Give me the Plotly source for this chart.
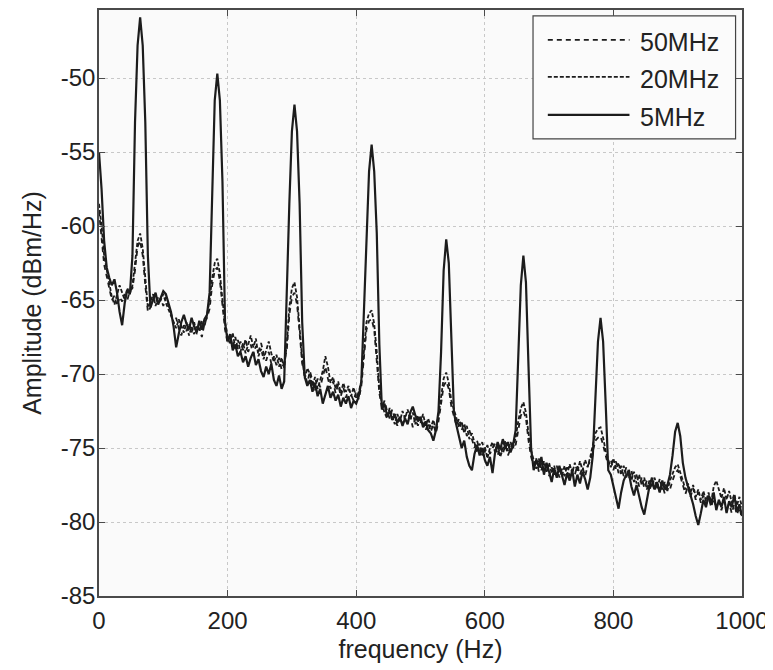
import plotly.graph_objects as go

# Frequency axis (Hz), 4 Hz resolution
freq = list(range(0, 1001, 4))

# 5MHz (solid)
amp_5mhz = [
    -55.0, -57.5, -61.0, -62.8, -63.5, -64.0, -63.6, -64.5, -65.8, -66.7,
    -65.2, -64.3, -64.6, -62.0, -53.0, -47.8, -45.9, -47.8, -53.0, -62.0,
    -65.5, -65.0, -64.5, -65.3, -64.8, -64.4, -64.6, -65.2, -65.8, -66.8,
    -68.2, -67.3, -66.5, -66.0, -66.6, -67.0, -66.2, -66.8, -67.2, -66.4,
    -67.0, -66.3, -66.0, -64.5, -57.0, -51.5, -49.7, -51.5, -57.0, -66.5,
    -67.8, -67.3, -68.4, -68.0, -68.8, -68.5, -69.2, -68.8, -69.5, -68.9,
    -68.5, -69.4, -69.0, -69.8, -70.2, -69.5, -70.0, -69.3, -70.4, -70.8,
    -70.1, -71.0, -70.5, -64.0, -58.5, -53.6, -51.8, -53.6, -58.5, -66.5,
    -70.2, -70.8, -70.4, -71.2, -70.6, -71.5, -71.0, -72.0, -71.3, -70.8,
    -71.6, -71.2, -71.8, -71.4, -72.2, -71.6, -72.0, -71.5, -72.3, -71.8,
    -72.0, -71.5, -70.5, -66.0, -60.5, -56.3, -54.5, -56.3, -60.5, -68.0,
    -72.4, -72.0, -72.8, -72.5, -73.1, -72.7, -73.3, -72.9, -73.5, -73.0,
    -73.4, -72.6, -72.2, -72.8, -73.2, -72.9, -73.6, -73.2, -73.8, -74.0,
    -74.5, -73.8, -72.5, -68.5, -63.0, -60.9, -62.5, -67.5, -72.6, -73.5,
    -74.2, -75.0, -74.5, -75.6, -76.2, -76.5, -75.4, -74.8, -75.5, -75.0,
    -75.8, -76.2, -75.6, -76.7, -75.3, -74.6, -75.1, -74.4, -75.0, -74.6,
    -75.3, -74.8, -73.8, -69.0, -64.0, -62.0, -63.8, -69.5, -75.0, -76.5,
    -75.8, -76.3, -75.6, -76.8, -76.0, -76.6, -77.3, -76.4, -77.0, -76.2,
    -76.9, -77.5, -76.7, -77.2, -76.5, -77.6, -76.8, -77.4, -76.6, -77.1,
    -77.8, -77.0, -75.5, -71.5, -67.8, -66.2, -67.8, -72.0, -76.5, -76.8,
    -77.5, -78.3, -79.1, -78.0, -77.2, -76.8, -76.7, -77.6, -78.2, -77.5,
    -78.3, -79.0, -79.5, -78.4, -77.6, -77.0, -77.8, -77.3, -78.0, -77.2,
    -77.8, -77.5, -76.8, -75.5, -73.9, -73.3, -74.2, -76.0, -77.0, -77.6,
    -78.2, -78.8, -79.6, -80.2, -79.4, -78.5, -79.0, -78.2, -78.8, -78.0,
    -79.2, -78.5, -79.0, -78.3, -79.4, -78.6, -79.0, -78.2, -79.3, -78.8,
    -79.6,
]

# 20MHz (dashed)
amp_20mhz = [
    -58.5, -60.0, -62.0, -63.0, -64.0, -64.8, -65.3, -64.6, -64.0, -64.5,
    -65.0, -64.2, -64.6, -64.0, -62.5, -61.0, -60.5, -61.5, -63.5, -65.5,
    -65.2, -64.6, -65.4, -64.8, -65.0, -64.6, -65.2, -65.6, -66.0, -66.4,
    -66.9, -66.3, -66.8, -67.2, -66.5, -67.4, -66.8, -67.3, -66.7, -67.1,
    -66.4, -66.8, -66.0, -65.0, -63.5, -62.5, -62.2, -63.2, -65.0, -66.5,
    -67.5, -68.0, -67.2, -68.3, -67.7, -68.5, -67.9, -68.6, -68.0, -67.4,
    -68.2, -67.6, -68.8, -68.3, -69.0, -68.4, -67.8, -68.6, -69.2, -68.7,
    -69.5, -68.9, -69.6, -68.0, -65.5, -64.2, -63.8, -64.8, -66.8, -69.0,
    -70.3, -69.6, -70.0, -70.8, -70.2, -71.0, -70.4, -69.8, -68.8, -69.5,
    -70.6, -70.2, -71.0, -70.5, -71.3, -70.6, -71.2, -70.8, -71.5, -70.9,
    -71.6, -71.2, -70.5, -68.5, -66.5, -65.9, -65.7, -66.6, -68.5, -71.0,
    -72.0, -72.6, -73.0, -72.3, -72.8, -73.4, -72.7, -73.2, -72.5, -73.0,
    -72.4, -73.1, -72.6, -73.4, -72.8, -73.3, -72.7, -73.5, -73.0, -73.6,
    -73.1, -73.8, -72.8, -71.5, -70.3, -69.9, -70.6, -71.8, -72.4, -73.0,
    -73.6, -73.2, -74.0, -73.5, -74.4, -74.0, -74.6, -75.3, -74.7, -75.5,
    -74.9, -75.7, -75.0, -74.6, -75.3, -74.8, -75.6, -75.1, -74.5, -75.2,
    -74.6, -75.0, -74.3, -73.2, -72.3, -71.9, -72.6, -74.0, -75.2, -75.8,
    -76.4, -75.7, -76.5, -75.9, -76.6, -76.0, -76.7, -76.2, -77.0, -76.4,
    -76.9, -76.2, -76.8, -76.1, -76.7, -76.0, -76.6, -75.9, -76.5, -75.8,
    -76.3, -75.6, -74.8, -74.0, -73.7, -73.6, -74.3, -75.2, -75.8, -76.3,
    -75.7, -76.4, -76.0, -76.8, -76.2, -77.0, -76.4, -77.2, -76.6, -77.4,
    -76.8, -77.5, -77.0, -77.8, -77.2, -77.6, -77.0, -77.7, -77.1, -77.8,
    -77.3, -77.9, -77.2, -76.8, -76.3, -76.1, -76.6, -77.2, -77.8, -77.4,
    -78.0, -77.5, -78.3, -77.8, -78.5, -77.9, -78.6, -78.0, -78.7, -77.6,
    -77.2, -77.9, -78.4, -77.7, -78.5, -77.9, -78.7, -78.1, -78.9, -78.3,
    -79.0,
]

# 50MHz (dashed)
amp_50mhz = [
    -59.0, -60.8, -62.6, -63.4, -64.3, -65.0, -64.7, -65.4, -64.8, -65.1,
    -64.6, -65.0, -64.4, -64.2, -63.0, -61.4, -61.0, -62.0, -64.0, -65.8,
    -65.5, -65.0, -64.7, -65.3, -64.9, -65.4, -64.8, -65.3, -65.9, -66.6,
    -66.2, -66.9, -67.4, -66.7, -67.1, -66.6, -67.2, -66.5, -67.3, -66.9,
    -67.5, -66.6, -66.2, -65.6, -64.0, -63.0, -62.8, -63.7, -65.6, -67.0,
    -67.9, -67.4, -68.2, -67.5, -68.3, -67.8, -68.4, -67.6, -68.5, -68.0,
    -68.7, -68.1, -68.5, -67.9, -68.6, -69.1, -68.5, -69.3, -68.8, -69.4,
    -68.9, -69.7, -69.2, -68.4, -66.0, -64.8, -64.5, -65.3, -67.2, -69.3,
    -70.0, -70.6, -69.8, -70.5, -71.1, -70.3, -70.9, -70.2, -69.5, -70.3,
    -71.0, -70.5, -71.3, -70.7, -71.5, -70.9, -71.6, -71.0, -71.4, -71.8,
    -71.2, -71.7, -70.8, -69.0, -67.0, -66.4, -66.3, -67.0, -69.0, -71.3,
    -72.3, -71.8, -72.5, -73.0, -72.4, -73.0, -73.5, -72.9, -73.4, -72.8,
    -73.3, -72.8, -73.6, -73.0, -73.5, -72.9, -73.4, -73.8, -73.3, -73.9,
    -73.4, -74.0, -73.2, -72.0, -70.8, -70.5, -71.0, -72.2, -72.8, -73.5,
    -73.0, -73.8, -73.3, -74.2, -73.8, -74.5, -75.0, -74.5, -75.2, -74.6,
    -75.3, -74.8, -75.4, -75.0, -74.7, -75.5, -74.9, -75.4, -74.8, -75.5,
    -75.0, -74.6, -74.8, -73.8, -72.8, -72.5, -73.0, -74.5, -75.6, -76.2,
    -75.7, -76.6, -76.0, -76.7, -76.1, -76.9, -76.3, -76.8, -76.2, -77.0,
    -76.4, -76.9, -76.3, -76.9, -76.4, -76.8, -76.2, -76.8, -76.3, -76.9,
    -76.2, -75.9, -75.2, -74.5, -74.3, -74.2, -74.8, -75.6, -76.2, -75.8,
    -76.5, -75.9, -76.7, -76.2, -76.9, -76.3, -77.1, -76.5, -77.3, -76.8,
    -77.6, -77.0, -77.7, -77.2, -77.9, -77.3, -77.9, -77.4, -78.0, -77.5,
    -78.1, -77.6, -77.8, -77.2, -76.7, -76.5, -76.9, -77.5, -78.1, -77.6,
    -78.3, -77.7, -78.5, -78.0, -78.7, -78.2, -78.9, -78.3, -79.0, -78.4,
    -79.1, -78.5, -79.2, -78.6, -79.3, -78.7, -79.4, -78.8, -79.5, -79.0,
    -79.8,
]

series_names = ["50MHz", "20MHz", "5MHz"]
x_ticks = [0, 200, 400, 600, 800, 1000]
x_tick_labels = ["0", "200", "400", "600", "800", "1000"]
y_ticks = [-85, -80, -75, -70, -65, -60, -55, -50]
y_tick_labels = ["-85", "-80", "-75", "-70", "-65", "-60", "-55", "-50"]

LINE = "#1c1c1c"
FONT = "Liberation Sans, Arial, sans-serif"
TXT = "#222222"
styles = [
    dict(color=LINE, width=1.8, dash="5px,4px"),
    dict(color=LINE, width=1.8, dash="4px,2px"),
    dict(color=LINE, width=2.2, dash="solid"),
]
series_values = [amp_50mhz, amp_20mhz, amp_5mhz]

fig = go.Figure()
for name, vals, st in zip(series_names, series_values, styles):
    fig.add_trace(go.Scatter(x=freq, y=vals, mode="lines", name=name,
                             showlegend=False, line=st))

# Legend drawn as a framed box with long line samples (paper coordinates)
shapes = [dict(type="rect", xref="paper", yref="paper",
               x0=0.675, x1=0.990, y0=0.780, y1=0.990,
               line=dict(color="#444444", width=1.2), fillcolor="#fbfbfb",
               layer="above")]
annotations = []
row_line_y = [0.949, 0.886, 0.821]
row_text_y = [0.945, 0.882, 0.817]
for name, st, ly, ty in zip(series_names, styles, row_line_y, row_text_y):
    shapes.append(dict(type="line", xref="paper", yref="paper",
                       x0=0.698, x1=0.825, y0=ly, y1=ly,
                       line=dict(color=st["color"], width=st["width"], dash=st["dash"]),
                       layer="above"))
    annotations.append(dict(xref="paper", yref="paper", x=0.838, y=ty,
                            xanchor="left", yanchor="middle", showarrow=False,
                            text=name, font=dict(family=FONT, size=25, color=TXT)))

axis_common = dict(
    showline=True, linecolor="#4a4a4a", linewidth=1.5, mirror="allticks",
    ticks="inside", ticklen=6, tickcolor="#4a4a4a", tickwidth=1,
    showgrid=True, gridcolor="#c8c8c8", gridwidth=1, griddash="dot",
    zeroline=False, automargin=False,
    tickfont=dict(family=FONT, size=24, color=TXT),
)

# The page body has an 8px offset; margins compensate for it.
fig.update_layout(
    width=773, height=670,
    margin=dict(l=91, r=39, t=2, b=82),
    paper_bgcolor="#ffffff",
    plot_bgcolor="#fafafa",
    font=dict(family=FONT, size=24, color=TXT),
    showlegend=False,
    shapes=shapes,
    annotations=annotations,
    xaxis=dict(range=[0, 1000], tickvals=x_ticks, ticktext=x_tick_labels,
               title=dict(text="frequency (Hz)", standoff=8,
                          font=dict(family=FONT, size=25, color=TXT)),
               ticklabelstandoff=2, **axis_common),
    yaxis=dict(range=[-85, -45.4], tickvals=y_ticks, ticktext=y_tick_labels,
               title=dict(text="Amplitude (dBm/Hz)", standoff=12,
                          font=dict(family=FONT, size=25, color=TXT)),
               ticklabelstandoff=-3, **axis_common),
)

fig.write_html("out.html")
